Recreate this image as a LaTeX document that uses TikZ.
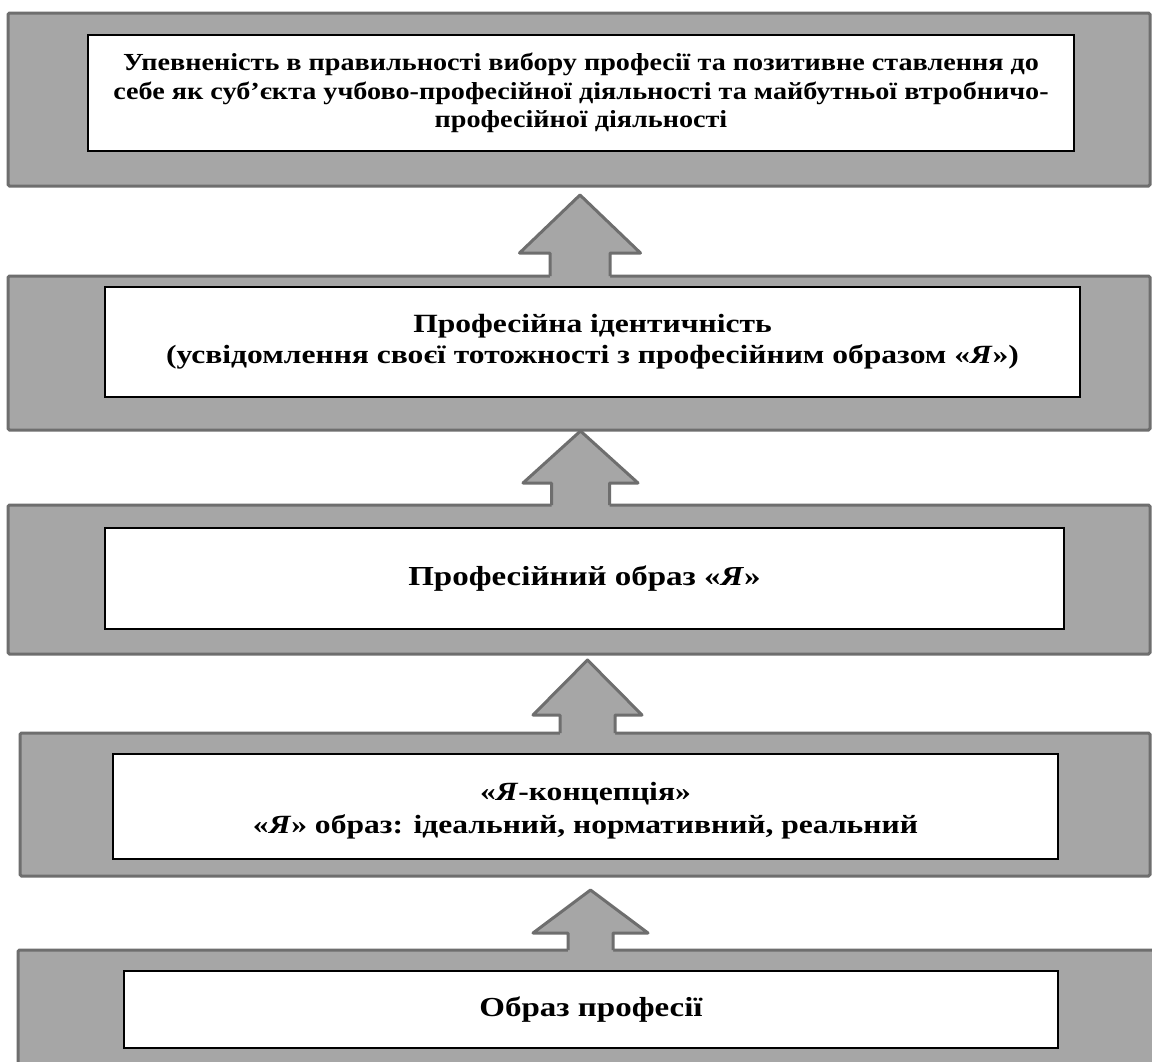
\documentclass[tikz,border=0pt]{standalone}
\usepackage{fontspec}
\setmainfont{Liberation Serif}
\newfontfamily\wideA{Liberation Serif}[FakeStretch=1.15]
\newfontfamily\wideB{Liberation Serif}[FakeStretch=1.2]
\definecolor{boxfill}{HTML}{A6A6A6}
\definecolor{boxline}{HTML}{6E6E6E}
\tikzset{
  outerbox/.style={draw=boxline, fill=boxfill, line width=3pt, rounded corners=1.5pt, inner sep=0pt},
  innerbox/.style={draw=black, fill=white, line width=1.3pt, inner sep=0pt, align=center},
  smalltext/.style={font=\wideA\fontsize{24.5}{28.5}\selectfont\bfseries},
  bigtext/.style={font=\wideB\fontsize{26.3}{31}\selectfont\bfseries},
  bigtextB/.style={font=\wideB\fontsize{27.5}{33}\selectfont\bfseries},
  arrfill/.style={fill=boxfill},
  arrline/.style={draw=boxline, line width=3pt, line join=round}
}
\newcommand\blockarrow[7]{% cx, tipy, basey, boty, headhalf, shafthalf, name
  \coordinate (#7tip) at (#1,#2);
  \fill[arrfill] (#7tip) -- (#1+#5,#3) -- (#1+#6,#3) -- (#1+#6,#4+2) -- (#1-#6,#4+2) -- (#1-#6,#3) -- (#1-#5,#3) -- cycle;
  \draw[arrline] (#1-#6,#4) -- (#1-#6,#3) -- (#1-#5,#3) -- (#7tip) -- (#1+#5,#3) -- (#1+#6,#3) -- (#1+#6,#4);
}
\begin{document}
\begin{tikzpicture}[x=1pt, y={(0pt,-1pt)}]
\useasboundingbox (0,0) rectangle (1152,1061);
\clip (0,0) rectangle (1152,1061);
\fill[white] (0,0) rectangle (1152,1061);
% outer boxes
\node[outerbox, minimum width=1142pt, minimum height=173pt] (o1) at (579,99.5) {};
\node[outerbox, minimum width=1142pt, minimum height=154pt] (o2) at (579,353) {};
\node[outerbox, minimum width=1142pt, minimum height=149pt] (o3) at (579,579.5) {};
\node[outerbox, minimum width=1130pt, minimum height=143pt] (o4) at (585,804.5) {};
\node[outerbox, minimum width=1140pt, minimum height=124pt] (o5) at (588,1012) {};
% inner boxes
\node[innerbox, smalltext, minimum width=986pt, minimum height=116pt] (i1) at (581,93)
  {Упевненість в правильності вибору професії та позитивне ставлення до\\
   себе як суб’єкта учбово-професійної діяльності та майбутньої втробничо-\\
   професійної діяльності};
\node[innerbox, bigtext, minimum width=975pt, minimum height=110pt] (i2) at (592.5,342)
  {Професійна ідентичність\\
   (усвідомлення своєї тотожності з професійним образом «\textit{Я}»)};
\node[innerbox, bigtextB, minimum width=959pt, minimum height=101pt] (i3) at (584.5,578.5)
  {Професійний образ «\textit{Я}»};
\node[innerbox, minimum width=945pt, minimum height=105pt] (i4) at (585.5,806.5) {};
\node[bigtext, align=center, inner sep=0pt] (t4) at ([yshift=-4pt]i4.center)
  {«\textit{Я}-концепція»\\[2pt]
   «\textit{Я}» образ: ідеальний, нормативний, реальний};
\node[innerbox, bigtextB, minimum width=934pt, minimum height=77pt] (i5) at (591,1009.5)
  {Образ професії};
% block arrows
\blockarrow{580}{195}{253}{276}{60.5}{30}{a1}
\blockarrow{580.5}{431}{483}{505}{57.5}{29}{a2}
\blockarrow{587.5}{660}{715}{733}{54.5}{27.5}{a3}
\blockarrow{590.5}{890}{933}{950}{57.5}{22.5}{a4}
\end{tikzpicture}
\end{document}
